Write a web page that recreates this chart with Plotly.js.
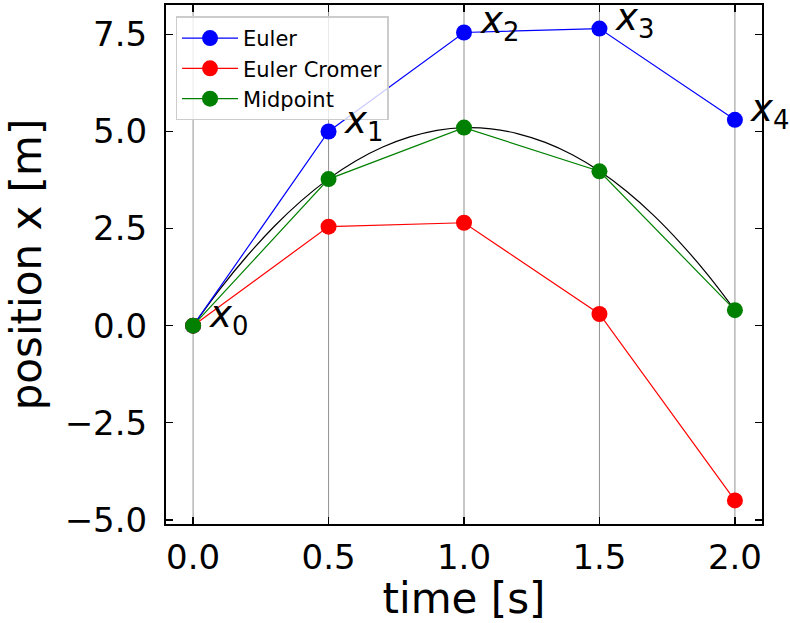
<!DOCTYPE html>
<html>
<head>
<meta charset="utf-8">
<script src="https://cdn.plot.ly/plotly-3.0.1.min.js"></script>
<style>html,body{margin:0;padding:0;background:#fff;}#chart{width:790px;height:623px;}</style>
</head>
<body>
<div id="chart"></div>
<script>
// Time steps
const tSteps = [0.0, 0.5, 1.0, 1.5, 2.0];
// Numerical solutions
const eulerX = [0.0, 5.0, 7.55, 7.65, 5.3];
const eulerCromerX = [0.0, 2.55, 2.65, 0.3, -4.5];
const midpointX = [0.0, 3.775, 5.1, 3.975, 0.4];
// Exact curve
const exactT = [0.0,0.1,0.2,0.3,0.4,0.5,0.6,0.7,0.8,0.9,1.0,1.1,1.2,1.3,1.4,1.5,1.6,1.7,1.8,1.9,2.0];
const exactX = [0.0,0.95,1.80,2.56,3.22,3.78,4.24,4.60,4.86,5.03,5.10,5.07,4.94,4.72,4.40,3.98,3.46,2.84,2.12,1.31,0.40];
// Labels
const pointLabels = ["<i>x</i><sub>0</sub>","<i>x</i><sub>1</sub>","<i>x</i><sub>2</sub>","<i>x</i><sub>3</sub>","<i>x</i><sub>4</sub>"];
const yTicks = [-5.0, -2.5, 0.0, 2.5, 5.0, 7.5];
const yTickText = ["\u22125.0","\u22122.5","0.0","2.5","5.0","7.5"];
const xTicks = [0.0, 0.5, 1.0, 1.5, 2.0];
const xTickText = ["0.0","0.5","1.0","1.5","2.0"];

const FONT = "DejaVu Sans, sans-serif";

const traces = [
  {x: exactT, y: exactX, mode: "lines", line: {color: "black", width: 1.2, shape: "spline"}, showlegend: false, hoverinfo: "skip"},
  {x: tSteps, y: eulerX, name: "Euler", mode: "lines+markers", line: {color: "blue", width: 1.2}, marker: {color: "blue", size: 16}},
  {x: tSteps, y: eulerCromerX, name: "Euler Cromer", mode: "lines+markers", line: {color: "red", width: 1.2}, marker: {color: "red", size: 16}},
  {x: tSteps, y: midpointX, name: "Midpoint", mode: "lines+markers", line: {color: "green", width: 1.2}, marker: {color: "green", size: 16}}
];

const shapes = tSteps.map(t => ({
  type: "line", xref: "x", yref: "paper", x0: t, x1: t, y0: 0, y1: 1,
  line: {color: "#777", width: 0.8}, layer: "below"
}));

const annY = [0.0, eulerX[1], eulerX[2], eulerX[3], eulerX[4]];
const annotations = tSteps.map((t, i) => ({
  x: t + 0.05, y: annY[i], xref: "x", yref: "y", text: pointLabels[i],
  showarrow: false, xanchor: "left", yanchor: "bottom", yshift: -17,
  font: {family: FONT, size: 37, color: "black"}
}));

const layout = {
  width: 790, height: 623,
  margin: {l: 166, r: 28, t: 5, b: 99},
  paper_bgcolor: "white", plot_bgcolor: "white",
  font: {family: FONT, color: "black"},
  showlegend: true,
  legend: {
    x: 0.016, y: 0.978, xanchor: "left", yanchor: "top",
    bgcolor: "rgba(255,255,255,0.8)", bordercolor: "#ccc", borderwidth: 1.5,
    itemwidth: 56,
    font: {family: FONT, size: 21, color: "black"}
  },
  xaxis: {
    range: [-0.1, 2.1], tickvals: xTicks, ticktext: xTickText,
    ticks: "inside", ticklen: 7, tickwidth: 1.5, tickcolor: "black",
    showline: true, linecolor: "black", linewidth: 2, mirror: "ticks",
    showgrid: false, zeroline: false,
    tickfont: {family: FONT, size: 34, color: "black"},
    ticklabelstandoff: 2,
    title: {text: "time [s]", font: {family: FONT, size: 42, color: "black"}, standoff: 12}
  },
  yaxis: {
    range: [-5.1075, 8.2575], tickvals: yTicks, ticktext: yTickText,
    ticks: "inside", ticklen: 7, tickwidth: 1.5, tickcolor: "black",
    showline: true, linecolor: "black", linewidth: 2, mirror: "ticks",
    showgrid: false, zeroline: false,
    tickfont: {family: FONT, size: 34, color: "black"},
    ticklabelstandoff: 10,
    title: {text: "position x [m]", font: {family: FONT, size: 42, color: "black"}, standoff: 10}
  },
  shapes: shapes,
  annotations: annotations
};

Plotly.newPlot("chart", traces, layout, {displayModeBar: false, staticPlot: true});
</script>
</body>
</html>
